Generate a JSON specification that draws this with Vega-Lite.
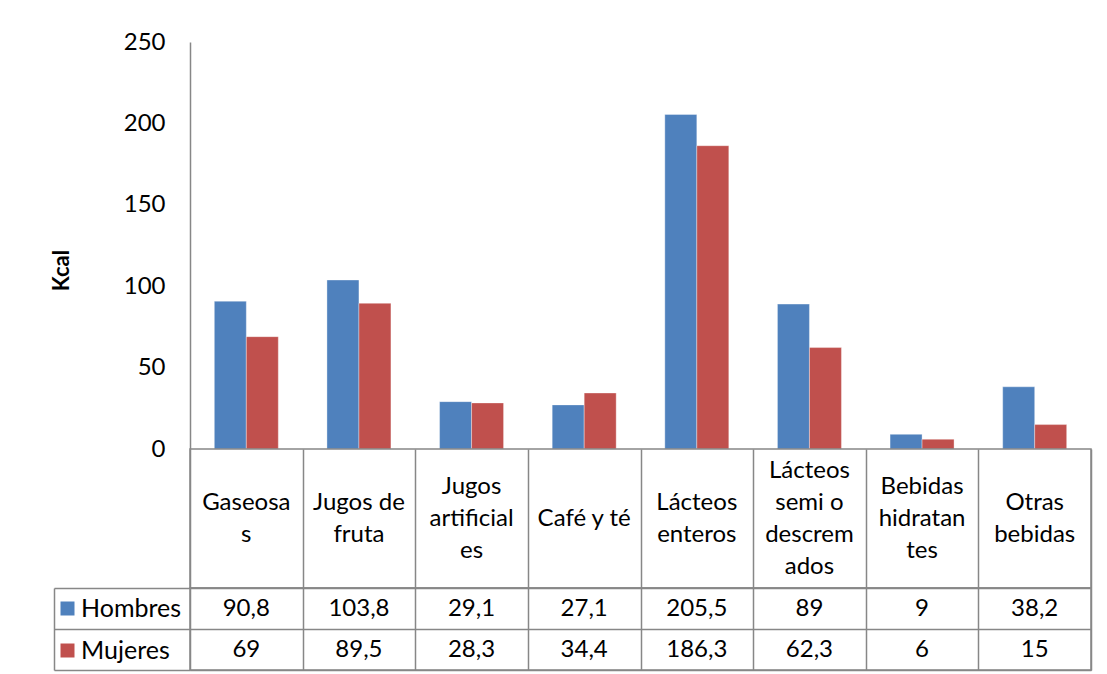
{
  "$schema": "https://vega.github.io/schema/vega-lite/v6.json",
  "padding": {"left": 46, "top": 30, "right": 16, "bottom": 4},
  "background": "white",
  "spacing": 0,
  "bounds": "flush",
  "config": {
    "font": "Lato",
    "locale": {"number": {"decimal": ",", "thousands": ".", "grouping": [3], "currency": ["", " €"]}},
    "axis": {"labelFont": "Lato", "titleFont": "Lato"}
  },
  "datasets": {
    "consumo": [
      {"categoria": "Gaseosas", "sexo": "Hombres", "kcal": 90.8},
      {"categoria": "Gaseosas", "sexo": "Mujeres", "kcal": 69},
      {"categoria": "Jugos de fruta", "sexo": "Hombres", "kcal": 103.8},
      {"categoria": "Jugos de fruta", "sexo": "Mujeres", "kcal": 89.5},
      {"categoria": "Jugos artificiales", "sexo": "Hombres", "kcal": 29.1},
      {"categoria": "Jugos artificiales", "sexo": "Mujeres", "kcal": 28.3},
      {"categoria": "Café y té", "sexo": "Hombres", "kcal": 27.1},
      {"categoria": "Café y té", "sexo": "Mujeres", "kcal": 34.4},
      {"categoria": "Lácteos enteros", "sexo": "Hombres", "kcal": 205.5},
      {"categoria": "Lácteos enteros", "sexo": "Mujeres", "kcal": 186.3},
      {"categoria": "Lácteos semi o descremados", "sexo": "Hombres", "kcal": 89},
      {"categoria": "Lácteos semi o descremados", "sexo": "Mujeres", "kcal": 62.3},
      {"categoria": "Bebidas hidratantes", "sexo": "Hombres", "kcal": 9},
      {"categoria": "Bebidas hidratantes", "sexo": "Mujeres", "kcal": 6},
      {"categoria": "Otras bebidas", "sexo": "Hombres", "kcal": 38.2},
      {"categoria": "Otras bebidas", "sexo": "Mujeres", "kcal": 15}
    ],
    "categorias": [
      {"categoria": "Gaseosas", "etiqueta": "Gaseosa|s"},
      {"categoria": "Jugos de fruta", "etiqueta": "Jugos de|fruta"},
      {"categoria": "Jugos artificiales", "etiqueta": "Jugos|artificial|es"},
      {"categoria": "Café y té", "etiqueta": "Café y té"},
      {"categoria": "Lácteos enteros", "etiqueta": "Lácteos|enteros"},
      {"categoria": "Lácteos semi o descremados", "etiqueta": "Lácteos|semi o|descrem|ados"},
      {"categoria": "Bebidas hidratantes", "etiqueta": "Bebidas|hidratan|tes"},
      {"categoria": "Otras bebidas", "etiqueta": "Otras|bebidas"}
    ]
  },
  "resolve": {"legend": {"color": "independent"}},
  "vconcat": [
    {
      "width": 901,
      "height": 407,
      "view": {"stroke": null},
      "data": {"name": "consumo"},
      "mark": {"type": "bar", "stroke": "#ffffff", "strokeOpacity": 0.35, "strokeWidth": 1},
      "encoding": {
        "x": {"field": "categoria", "type": "nominal", "sort": null,
              "scale": {"paddingInner": 0, "paddingOuter": 0}, "axis": null},
        "xOffset": {"field": "sexo", "type": "nominal", "sort": ["Hombres", "Mujeres"],
                    "scale": {"paddingInner": 0, "paddingOuter": 0.76}},
        "y": {"field": "kcal", "type": "quantitative",
              "scale": {"domain": [0, 250], "nice": false},
              "axis": {"values": [0, 50, 100, 150, 200, 250], "grid": false, "ticks": false,
                       "domainColor": "#878787", "domainWidth": 1.5,
                       "labelFontSize": 24, "labelColor": "black", "labelPadding": 25,
                       "title": "Kcal", "titleFontSize": 22, "titleFontWeight": "bold", "titleColor": "black",
                       "titleX": -129, "titleY": 228, "titleBaseline": "middle", "titleAlign": "center", "titleAngle": -90}},
        "color": {"field": "sexo", "type": "nominal",
                  "scale": {"domain": ["Hombres", "Mujeres"], "range": ["#4F81BD", "#C0504D"]},
                  "legend": null}
      }
    },
    {
      "width": 901,
      "height": 139,
      "view": {"stroke": "#878787", "strokeWidth": 1.5},
      "data": {"name": "categorias"},
      "mark": {"type": "text", "lineBreak": "|", "fontSize": 24, "lineHeight": 32, "baseline": "middle", "align": "center", "color": "black",
               "dy": {"expr": "-16 * (length(split(datum.etiqueta, '|')) - 1)"}},
      "encoding": {
        "x": {"field": "categoria", "type": "nominal", "sort": null,
              "scale": {"paddingInner": 0, "paddingOuter": 0},
              "axis": {"grid": true, "tickBand": "extent", "gridColor": "#878787", "gridWidth": 1.5,
                       "labels": false, "ticks": false, "domain": false, "title": null}},
        "text": {"field": "etiqueta", "type": "nominal"}
      }
    },
    {
      "width": 901,
      "height": 82,
      "view": {"stroke": "#878787", "strokeWidth": 1.5},
      "data": {"name": "consumo"},
      "encoding": {
        "x": {"field": "categoria", "type": "nominal", "sort": null,
              "scale": {"paddingInner": 0, "paddingOuter": 0},
              "axis": {"grid": true, "tickBand": "extent", "gridColor": "#878787", "gridWidth": 1.5,
                       "labels": false, "ticks": false, "domain": false, "title": null}},
        "y": {"field": "sexo", "type": "nominal", "sort": ["Hombres", "Mujeres"],
              "scale": {"paddingInner": 0, "paddingOuter": 0},
              "axis": {"grid": true, "tickBand": "extent", "gridColor": "#878787", "gridWidth": 1.5,
                       "offset": 136, "domain": true, "domainColor": "#878787", "domainWidth": 1.5,
                       "ticks": true, "tickSize": -136, "tickColor": "#878787", "tickWidth": 1.5,
                       "labels": false, "title": null}}
      },
      "layer": [
        {
          "mark": {"type": "square", "opacity": 0},
          "encoding": {
            "color": {"field": "sexo", "type": "nominal",
                      "scale": {"domain": ["Hombres", "Mujeres"], "range": ["#4F81BD", "#C0504D"]},
                      "legend": {"orient": "left", "title": null, "symbolType": "square", "symbolSize": 196,
                                 "symbolStrokeWidth": 0, "symbolOpacity": 1, "labelFontSize": 25, "labelFont": "Lato",
                                 "labelColor": "black", "labelOffset": 1, "rowPadding": 16, "offset": -137, "padding": 8,
                                 "labelLimit": 0}}
          }
        },
        {
          "mark": {"type": "text", "fontSize": 24, "baseline": "middle", "align": "center", "color": "black"},
          "encoding": {
            "text": {"field": "kcal", "type": "quantitative", "format": "~r"}
          }
        }
      ]
    }
  ]
}
